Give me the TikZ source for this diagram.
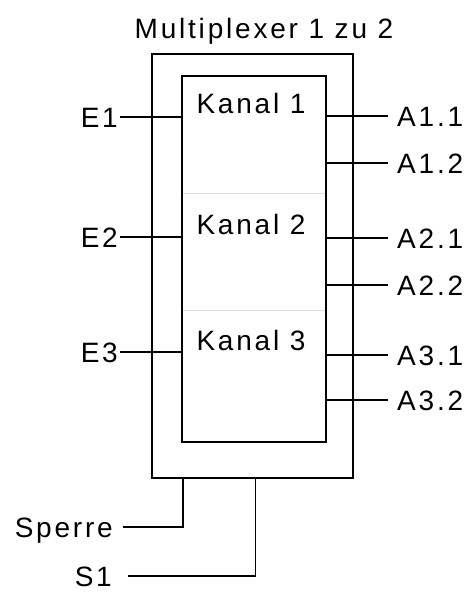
\documentclass[tikz,border=0pt]{standalone}
\usepackage{fontspec}
\setmainfont{Liberation Sans}[LetterSpace=10]
\usetikzlibrary{positioning}

\begin{document}
\begin{tikzpicture}[x=1pt,y=-1pt,
  frame/.style={rectangle,draw,line width=1.3pt,inner sep=0pt},
  lbl/.style={font=\fontsize{28}{31}\selectfont,inner xsep=2pt,inner ysep=0pt,
              text height=20pt,text depth=0pt},
  inl/.style={lbl,anchor=east},
  outl/.style={lbl,anchor=west,inner xsep=9pt},
  wire/.style={line width=1.3pt},
  sep/.style={draw=gray!25,line width=0.8pt}
]
  \useasboundingbox (0,0) rectangle (467,592);
  \node[lbl] (title) at (264,28) {Multiplexer 1 zu 2};
  \node[frame,minimum width=201pt,minimum height=424pt] (outer) at (252.5,266) {};
  \node[frame,minimum width=144pt,minimum height=366pt] (inner) at (254,259) {};
  \draw[sep] (183,193) -- (325,193);
  \draw[sep] (183,310) -- (325,310);
  \node[lbl] (k1) at (251,103) {Kanal 1};
  \node[lbl] (k2) at (251,224) {Kanal 2};
  \node[lbl] (k3) at (251,340) {Kanal 3};
  \node[inl] (e1) at (120,117) {E1};
  \node[inl] (e2) at (120,237) {E2};
  \node[inl] (e3) at (120,352) {E3};
  \node[outl](a11) at (388,116) {A1.1};
  \node[outl](a12) at (388,163) {A1.2};
  \node[outl](a21) at (388,238) {A2.1};
  \node[outl](a22) at (388,285) {A2.2};
  \node[outl](a31) at (388,355) {A3.1};
  \node[outl](a32) at (388,400) {A3.2};
  \node[inl,inner xsep=10pt] (sperre) at (123,527) {Sperre};
  \node[inl,inner xsep=16pt] (s1) at (128,576) {S1};
  \foreach \e in {e1,e2,e3}
    \draw[wire] (\e.east) -- (\e.east -| inner.west);
  \foreach \a in {a11,a12,a21,a22,a31,a32}
    \draw[wire] (\a.west -| inner.east) -- (\a.west);
  \draw[wire] ([xshift=-69.5pt]outer.south) |- (sperre.east);
  \draw[wire] ([xshift=3pt]outer.south) |- (s1.east);
\end{tikzpicture}
\end{document}
